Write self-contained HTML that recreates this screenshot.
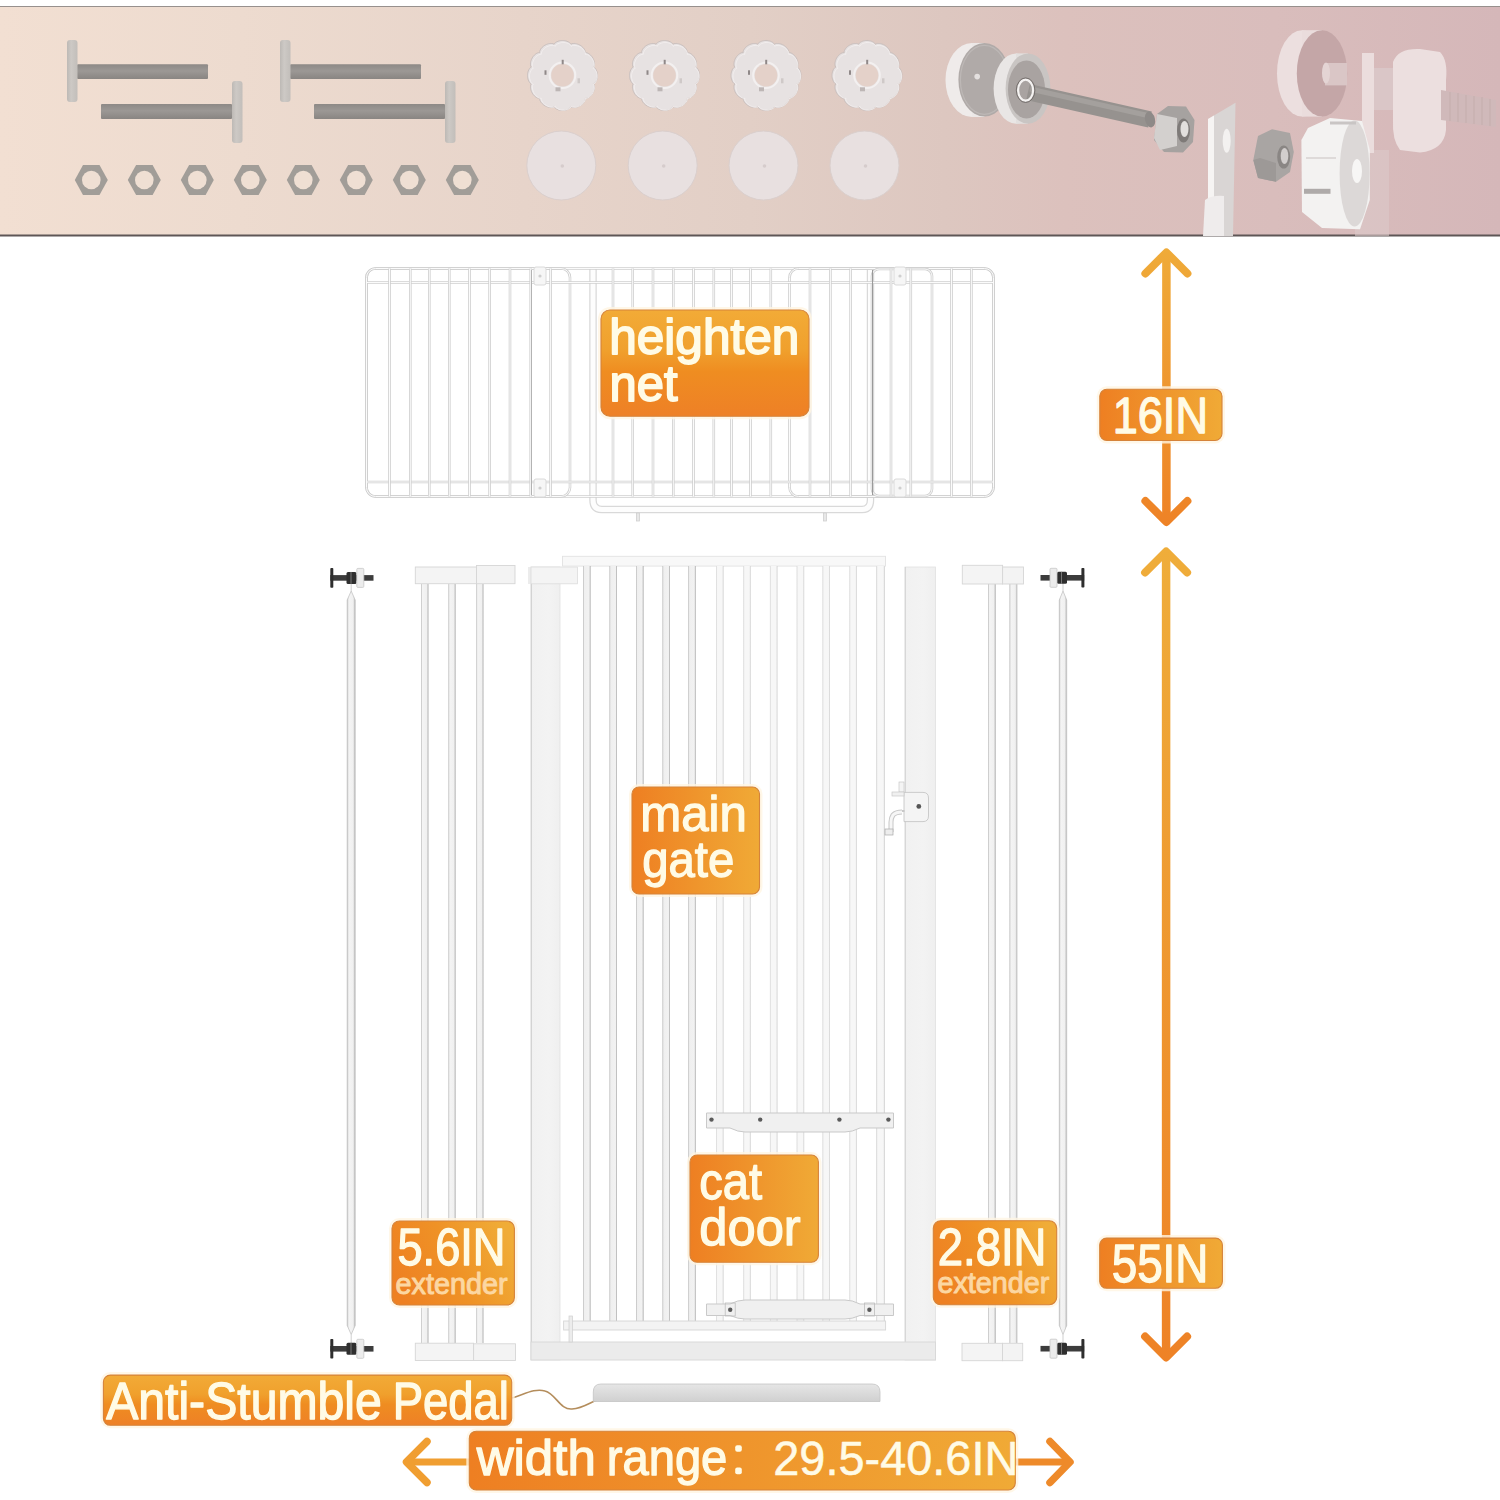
<!DOCTYPE html>
<html><head><meta charset="utf-8">
<style>
html,body{margin:0;padding:0;background:#fff;width:1500px;height:1500px;overflow:hidden}
svg{display:block}
text{font-family:"Liberation Sans",sans-serif}
</style></head>
<body>
<svg width="1500" height="1500" viewBox="0 0 1500 1500">
<defs>
 <linearGradient id="bn" x1="0" y1="0" x2="1" y2="0">
  <stop offset="0" stop-color="#f2dfd2"/>
  <stop offset="0.16" stop-color="#eddbcf"/>
  <stop offset="0.35" stop-color="#e7d4ca"/>
  <stop offset="0.5" stop-color="#e2cfc6"/>
  <stop offset="0.63" stop-color="#ddc7c0"/>
  <stop offset="0.71" stop-color="#dcc1bd"/>
  <stop offset="0.85" stop-color="#d9bdbc"/>
  <stop offset="1" stop-color="#d5b7b9"/>
 </linearGradient>
 <linearGradient id="lblV" x1="0" y1="0" x2="0" y2="1">
  <stop offset="0" stop-color="#f2ab37"/>
  <stop offset="0.38" stop-color="#f0a02d"/>
  <stop offset="0.58" stop-color="#ef8d21"/>
  <stop offset="1" stop-color="#ee8026"/>
 </linearGradient>
 <linearGradient id="lblH" x1="0" y1="0" x2="1" y2="0">
  <stop offset="0" stop-color="#ee7f22"/>
  <stop offset="1" stop-color="#f0aa36"/>
 </linearGradient>
 <linearGradient id="lblD" x1="0" y1="0.65" x2="1" y2="0.35">
  <stop offset="0" stop-color="#ee8022"/>
  <stop offset="0.5" stop-color="#ef9226"/>
  <stop offset="1" stop-color="#f0ac37"/>
 </linearGradient>
 <linearGradient id="arrV1" gradientUnits="userSpaceOnUse" x1="0" y1="248" x2="0" y2="526">
  <stop offset="0" stop-color="#efab39"/>
  <stop offset="1" stop-color="#ee8226"/>
 </linearGradient>
 <linearGradient id="arrV2" gradientUnits="userSpaceOnUse" x1="0" y1="548" x2="0" y2="1361">
  <stop offset="0" stop-color="#efad3a"/>
  <stop offset="1" stop-color="#ee8226"/>
 </linearGradient>
 <linearGradient id="arrH" gradientUnits="userSpaceOnUse" x1="400" y1="0" x2="1075" y2="0">
  <stop offset="0" stop-color="#f09a30"/>
  <stop offset="1" stop-color="#ee8a28"/>
 </linearGradient>
 <linearGradient id="shaft" x1="0" y1="0" x2="0" y2="1">
  <stop offset="0" stop-color="#8d8986"/>
  <stop offset="0.45" stop-color="#9c9895"/>
  <stop offset="1" stop-color="#898582"/>
 </linearGradient>
 <linearGradient id="head" x1="0" y1="0" x2="1" y2="0">
  <stop offset="0" stop-color="#bdb9b5"/>
  <stop offset="0.4" stop-color="#cdc9c5"/>
  <stop offset="1" stop-color="#c2beba"/>
 </linearGradient>
 <linearGradient id="pedal" x1="0" y1="0" x2="0" y2="1">
  <stop offset="0" stop-color="#e6e6e6"/>
  <stop offset="1" stop-color="#d0d0d0"/>
 </linearGradient>
 <linearGradient id="post" x1="0" y1="0" x2="1" y2="0">
  <stop offset="0" stop-color="#f1f1f1"/>
  <stop offset="0.6" stop-color="#f3f3f3"/>
  <stop offset="1" stop-color="#efefef"/>
 </linearGradient>
 <linearGradient id="bar" x1="0" y1="0" x2="1" y2="0">
  <stop offset="0" stop-color="#b9b9b9"/>
  <stop offset="0.18" stop-color="#efefef"/>
  <stop offset="0.8" stop-color="#f2f2f2"/>
  <stop offset="1" stop-color="#a9a9a9"/>
 </linearGradient>
 <linearGradient id="barL" x1="0" y1="0" x2="1" y2="0">
  <stop offset="0" stop-color="#d6d6d6"/>
  <stop offset="0.2" stop-color="#f7f7f7"/>
  <stop offset="0.8" stop-color="#f7f7f7"/>
  <stop offset="1" stop-color="#cfcfcf"/>
 </linearGradient>
 <linearGradient id="rod" x1="0" y1="0" x2="1" y2="0">
  <stop offset="0" stop-color="#bdbdbd"/>
  <stop offset="0.2" stop-color="#f4f4f4"/>
  <stop offset="0.75" stop-color="#f0f0f0"/>
  <stop offset="1" stop-color="#b0b0b0"/>
 </linearGradient>
</defs>

<rect x="0" y="6" width="1500" height="230" fill="url(#bn)"/>
<line x1="0" y1="6.5" x2="1500" y2="6.5" stroke="#97908d" stroke-width="1"/>
<line x1="0" y1="235.5" x2="1500" y2="235.5" stroke="#5e5656" stroke-width="2"/>
<rect x="77" y="64.3" width="131" height="14.7" rx="1" fill="url(#shaft)"/>
<rect x="67" y="40" width="10.5" height="62" rx="3" fill="url(#head)"/>
<rect x="101" y="104" width="131" height="15" rx="1" fill="url(#shaft)"/>
<rect x="232" y="81" width="10.5" height="62" rx="3" fill="url(#head)"/>
<rect x="290" y="64.3" width="131" height="14.7" rx="1" fill="url(#shaft)"/>
<rect x="280" y="40" width="10.5" height="62" rx="3" fill="url(#head)"/>
<rect x="314" y="104" width="131" height="15" rx="1" fill="url(#shaft)"/>
<rect x="445" y="81" width="10.5" height="62" rx="3" fill="url(#head)"/>
<polygon points="74.8,180.0 83.0,165.0 99.5,165.0 107.8,180.0 99.5,195.0 83.0,195.0" fill="#a19d98"/>
<circle cx="91.3" cy="180" r="9.3" fill="#efdfd3"/>
<polygon points="127.8,180.0 136.1,165.0 152.6,165.0 160.8,180.0 152.6,195.0 136.1,195.0" fill="#a19d98"/>
<circle cx="144.3" cy="180" r="9.3" fill="#efdfd3"/>
<polygon points="180.8,180.0 189.1,165.0 205.6,165.0 213.8,180.0 205.6,195.0 189.1,195.0" fill="#a19d98"/>
<circle cx="197.3" cy="180" r="9.3" fill="#efdfd3"/>
<polygon points="233.8,180.0 242.1,165.0 258.6,165.0 266.8,180.0 258.6,195.0 242.1,195.0" fill="#a19d98"/>
<circle cx="250.3" cy="180" r="9.3" fill="#efdfd3"/>
<polygon points="286.8,180.0 295.1,165.0 311.6,165.0 319.8,180.0 311.6,195.0 295.1,195.0" fill="#a19d98"/>
<circle cx="303.3" cy="180" r="9.3" fill="#efdfd3"/>
<polygon points="339.8,180.0 348.1,165.0 364.6,165.0 372.8,180.0 364.6,195.0 348.1,195.0" fill="#a19d98"/>
<circle cx="356.3" cy="180" r="9.3" fill="#efdfd3"/>
<polygon points="392.8,180.0 401.1,165.0 417.6,165.0 425.8,180.0 417.6,195.0 401.1,195.0" fill="#a19d98"/>
<circle cx="409.3" cy="180" r="9.3" fill="#efdfd3"/>
<polygon points="445.8,180.0 454.1,165.0 470.6,165.0 478.8,180.0 470.6,195.0 454.1,195.0" fill="#a19d98"/>
<circle cx="462.3" cy="180" r="9.3" fill="#efdfd3"/>
<path d="M597.5,75.5 L597.5,76.4 L597.4,77.3 L597.2,78.2 L597.0,79.1 L596.7,80.0 L596.3,80.9 L595.9,81.7 L595.4,82.5 L594.8,83.2 L593.7,83.9 L594.3,84.9 L594.5,85.9 L594.5,86.8 L594.5,87.8 L594.4,88.7 L594.2,89.6 L593.9,90.5 L593.6,91.4 L593.2,92.2 L592.8,93.0 L592.3,93.8 L591.8,94.5 L591.2,95.2 L590.6,95.9 L589.9,96.5 L589.1,97.1 L588.3,97.6 L587.5,98.0 L586.6,98.3 L585.3,98.3 L585.3,99.6 L585.0,100.5 L584.6,101.3 L584.1,102.1 L583.5,102.9 L582.9,103.6 L582.2,104.2 L581.5,104.8 L580.8,105.3 L580.0,105.8 L579.2,106.2 L578.4,106.6 L577.5,106.9 L576.6,107.2 L575.7,107.4 L574.8,107.5 L573.8,107.5 L572.9,107.5 L571.9,107.3 L570.9,106.7 L570.2,107.8 L569.5,108.4 L568.7,108.9 L567.9,109.3 L567.0,109.7 L566.1,110.0 L565.2,110.2 L564.3,110.4 L563.4,110.5 L562.5,110.5 L561.6,110.5 L560.7,110.4 L559.8,110.2 L558.9,110.0 L558.0,109.7 L557.1,109.3 L556.3,108.9 L555.5,108.4 L554.8,107.8 L554.1,106.7 L553.1,107.3 L552.1,107.5 L551.2,107.5 L550.2,107.5 L549.3,107.4 L548.4,107.2 L547.5,106.9 L546.6,106.6 L545.8,106.2 L545.0,105.8 L544.2,105.3 L543.5,104.8 L542.8,104.2 L542.1,103.6 L541.5,102.9 L540.9,102.1 L540.4,101.3 L540.0,100.5 L539.7,99.6 L539.7,98.3 L538.4,98.3 L537.5,98.0 L536.7,97.6 L535.9,97.1 L535.1,96.5 L534.4,95.9 L533.8,95.2 L533.2,94.5 L532.7,93.8 L532.2,93.0 L531.8,92.2 L531.4,91.4 L531.1,90.5 L530.8,89.6 L530.6,88.7 L530.5,87.8 L530.5,86.8 L530.5,85.9 L530.7,84.9 L531.3,83.9 L530.2,83.2 L529.6,82.5 L529.1,81.7 L528.7,80.9 L528.3,80.0 L528.0,79.1 L527.8,78.2 L527.6,77.3 L527.5,76.4 L527.5,75.5 L527.5,74.6 L527.6,73.7 L527.8,72.8 L528.0,71.9 L528.3,71.0 L528.7,70.1 L529.1,69.3 L529.6,68.5 L530.2,67.8 L531.3,67.1 L530.7,66.1 L530.5,65.1 L530.5,64.2 L530.5,63.2 L530.6,62.3 L530.8,61.4 L531.1,60.5 L531.4,59.6 L531.8,58.8 L532.2,58.0 L532.7,57.2 L533.2,56.5 L533.8,55.8 L534.4,55.1 L535.1,54.5 L535.9,53.9 L536.7,53.4 L537.5,53.0 L538.4,52.7 L539.7,52.7 L539.7,51.4 L540.0,50.5 L540.4,49.7 L540.9,48.9 L541.5,48.1 L542.1,47.4 L542.8,46.8 L543.5,46.2 L544.2,45.7 L545.0,45.2 L545.8,44.8 L546.6,44.4 L547.5,44.1 L548.4,43.8 L549.3,43.6 L550.2,43.5 L551.2,43.5 L552.1,43.5 L553.1,43.7 L554.1,44.3 L554.8,43.2 L555.5,42.6 L556.3,42.1 L557.1,41.7 L558.0,41.3 L558.9,41.0 L559.8,40.8 L560.7,40.6 L561.6,40.5 L562.5,40.5 L563.4,40.5 L564.3,40.6 L565.2,40.8 L566.1,41.0 L567.0,41.3 L567.9,41.7 L568.7,42.1 L569.5,42.6 L570.2,43.2 L570.9,44.3 L571.9,43.7 L572.9,43.5 L573.8,43.5 L574.8,43.5 L575.7,43.6 L576.6,43.8 L577.5,44.1 L578.4,44.4 L579.2,44.8 L580.0,45.2 L580.8,45.7 L581.5,46.2 L582.2,46.8 L582.9,47.4 L583.5,48.1 L584.1,48.9 L584.6,49.7 L585.0,50.5 L585.3,51.4 L585.3,52.7 L586.6,52.7 L587.5,53.0 L588.3,53.4 L589.1,53.9 L589.9,54.5 L590.6,55.1 L591.2,55.8 L591.8,56.5 L592.3,57.2 L592.8,58.0 L593.2,58.8 L593.6,59.6 L593.9,60.5 L594.2,61.4 L594.4,62.3 L594.5,63.2 L594.5,64.2 L594.5,65.1 L594.3,66.1 L593.7,67.1 L594.8,67.8 L595.4,68.5 L595.9,69.3 L596.3,70.1 L596.7,71.0 L597.0,71.9 L597.2,72.8 L597.4,73.7 L597.5,74.6Z" fill="#e7e2e2" stroke="#c9bfbd" stroke-width="1"/>
<path d="M596.3,75.5 L596.3,76.4 L596.2,77.3 L596.0,78.1 L595.8,79.0 L595.5,79.8 L595.2,80.7 L594.7,81.5 L594.2,82.2 L593.6,83.0 L592.5,83.5 L593.2,84.6 L593.3,85.5 L593.4,86.4 L593.4,87.3 L593.3,88.2 L593.1,89.1 L592.8,90.0 L592.5,90.8 L592.2,91.6 L591.8,92.4 L591.3,93.2 L590.8,93.9 L590.2,94.5 L589.6,95.2 L588.9,95.8 L588.2,96.3 L587.4,96.8 L586.6,97.2 L585.7,97.5 L584.5,97.5 L584.5,98.7 L584.2,99.6 L583.8,100.4 L583.3,101.2 L582.8,101.9 L582.2,102.6 L581.5,103.2 L580.9,103.8 L580.2,104.3 L579.4,104.8 L578.6,105.2 L577.8,105.5 L577.0,105.8 L576.1,106.1 L575.2,106.3 L574.3,106.4 L573.4,106.4 L572.5,106.3 L571.6,106.2 L570.5,105.5 L570.0,106.6 L569.2,107.2 L568.5,107.7 L567.7,108.2 L566.8,108.5 L566.0,108.8 L565.1,109.0 L564.3,109.2 L563.4,109.3 L562.5,109.3 L561.6,109.3 L560.7,109.2 L559.9,109.0 L559.0,108.8 L558.2,108.5 L557.3,108.2 L556.5,107.7 L555.8,107.2 L555.0,106.6 L554.5,105.5 L553.4,106.2 L552.5,106.3 L551.6,106.4 L550.7,106.4 L549.8,106.3 L548.9,106.1 L548.0,105.8 L547.2,105.5 L546.4,105.2 L545.6,104.8 L544.8,104.3 L544.1,103.8 L543.5,103.2 L542.8,102.6 L542.2,101.9 L541.7,101.2 L541.2,100.4 L540.8,99.6 L540.5,98.7 L540.5,97.5 L539.3,97.5 L538.4,97.2 L537.6,96.8 L536.8,96.3 L536.1,95.8 L535.4,95.2 L534.8,94.5 L534.2,93.9 L533.7,93.2 L533.2,92.4 L532.8,91.6 L532.5,90.8 L532.2,90.0 L531.9,89.1 L531.7,88.2 L531.6,87.3 L531.6,86.4 L531.7,85.5 L531.8,84.6 L532.5,83.5 L531.4,83.0 L530.8,82.2 L530.3,81.5 L529.8,80.7 L529.5,79.8 L529.2,79.0 L529.0,78.1 L528.8,77.3 L528.7,76.4 L528.7,75.5 L528.7,74.6 L528.8,73.7 L529.0,72.9 L529.2,72.0 L529.5,71.2 L529.8,70.3 L530.3,69.5 L530.8,68.8 L531.4,68.0 L532.5,67.5 L531.8,66.4 L531.7,65.5 L531.6,64.6 L531.6,63.7 L531.7,62.8 L531.9,61.9 L532.2,61.0 L532.5,60.2 L532.8,59.4 L533.2,58.6 L533.7,57.8 L534.2,57.1 L534.8,56.5 L535.4,55.8 L536.1,55.2 L536.8,54.7 L537.6,54.2 L538.4,53.8 L539.3,53.5 L540.5,53.5 L540.5,52.3 L540.8,51.4 L541.2,50.6 L541.7,49.8 L542.2,49.1 L542.8,48.4 L543.5,47.8 L544.1,47.2 L544.8,46.7 L545.6,46.2 L546.4,45.8 L547.2,45.5 L548.0,45.2 L548.9,44.9 L549.8,44.7 L550.7,44.6 L551.6,44.6 L552.5,44.7 L553.4,44.8 L554.5,45.5 L555.0,44.4 L555.8,43.8 L556.5,43.3 L557.3,42.8 L558.2,42.5 L559.0,42.2 L559.9,42.0 L560.7,41.8 L561.6,41.7 L562.5,41.7 L563.4,41.7 L564.3,41.8 L565.1,42.0 L566.0,42.2 L566.8,42.5 L567.7,42.8 L568.5,43.3 L569.2,43.8 L570.0,44.4 L570.5,45.5 L571.6,44.8 L572.5,44.7 L573.4,44.6 L574.3,44.6 L575.2,44.7 L576.1,44.9 L577.0,45.2 L577.8,45.5 L578.6,45.8 L579.4,46.2 L580.2,46.7 L580.9,47.2 L581.5,47.8 L582.2,48.4 L582.8,49.1 L583.3,49.8 L583.8,50.6 L584.2,51.4 L584.5,52.3 L584.5,53.5 L585.7,53.5 L586.6,53.8 L587.4,54.2 L588.2,54.7 L588.9,55.2 L589.6,55.8 L590.2,56.5 L590.8,57.1 L591.3,57.8 L591.8,58.6 L592.2,59.4 L592.5,60.2 L592.8,61.0 L593.1,61.9 L593.3,62.8 L593.4,63.7 L593.4,64.6 L593.3,65.5 L593.2,66.4 L592.5,67.5 L593.6,68.0 L594.2,68.8 L594.7,69.5 L595.2,70.3 L595.5,71.2 L595.8,72.0 L596.0,72.9 L596.2,73.7 L596.3,74.6Z" fill="none" stroke="#f3efef" stroke-width="1" transform="translate(0.8 0.8)"/>
<circle cx="562.5" cy="75.3" r="12.8" fill="none" stroke="#f3f0f0" stroke-width="2"/>
<circle cx="562.5" cy="75.3" r="11.3" fill="#e4d1c9"/>
<rect x="561.7" y="59.8" width="2" height="4.5" fill="#8f8888"/>
<rect x="544.5" y="70.3" width="2" height="4.5" fill="#8f8888"/>
<rect x="577.5" y="78.3" width="2.5" height="5" fill="#cfc9c8"/>
<rect x="555.5" y="87.3" width="5" height="4" fill="#bdb6b5"/>
<path d="M699.5,75.5 L699.5,76.4 L699.4,77.3 L699.2,78.2 L699.0,79.1 L698.7,80.0 L698.3,80.9 L697.9,81.7 L697.4,82.5 L696.8,83.2 L695.7,83.9 L696.3,84.9 L696.5,85.9 L696.5,86.8 L696.5,87.8 L696.4,88.7 L696.2,89.6 L695.9,90.5 L695.6,91.4 L695.2,92.2 L694.8,93.0 L694.3,93.8 L693.8,94.5 L693.2,95.2 L692.6,95.9 L691.9,96.5 L691.1,97.1 L690.3,97.6 L689.5,98.0 L688.6,98.3 L687.3,98.3 L687.3,99.6 L687.0,100.5 L686.6,101.3 L686.1,102.1 L685.5,102.9 L684.9,103.6 L684.2,104.2 L683.5,104.8 L682.8,105.3 L682.0,105.8 L681.2,106.2 L680.4,106.6 L679.5,106.9 L678.6,107.2 L677.7,107.4 L676.8,107.5 L675.8,107.5 L674.9,107.5 L673.9,107.3 L672.9,106.7 L672.2,107.8 L671.5,108.4 L670.7,108.9 L669.9,109.3 L669.0,109.7 L668.1,110.0 L667.2,110.2 L666.3,110.4 L665.4,110.5 L664.5,110.5 L663.6,110.5 L662.7,110.4 L661.8,110.2 L660.9,110.0 L660.0,109.7 L659.1,109.3 L658.3,108.9 L657.5,108.4 L656.8,107.8 L656.1,106.7 L655.1,107.3 L654.1,107.5 L653.2,107.5 L652.2,107.5 L651.3,107.4 L650.4,107.2 L649.5,106.9 L648.6,106.6 L647.8,106.2 L647.0,105.8 L646.2,105.3 L645.5,104.8 L644.8,104.2 L644.1,103.6 L643.5,102.9 L642.9,102.1 L642.4,101.3 L642.0,100.5 L641.7,99.6 L641.7,98.3 L640.4,98.3 L639.5,98.0 L638.7,97.6 L637.9,97.1 L637.1,96.5 L636.4,95.9 L635.8,95.2 L635.2,94.5 L634.7,93.8 L634.2,93.0 L633.8,92.2 L633.4,91.4 L633.1,90.5 L632.8,89.6 L632.6,88.7 L632.5,87.8 L632.5,86.8 L632.5,85.9 L632.7,84.9 L633.3,83.9 L632.2,83.2 L631.6,82.5 L631.1,81.7 L630.7,80.9 L630.3,80.0 L630.0,79.1 L629.8,78.2 L629.6,77.3 L629.5,76.4 L629.5,75.5 L629.5,74.6 L629.6,73.7 L629.8,72.8 L630.0,71.9 L630.3,71.0 L630.7,70.1 L631.1,69.3 L631.6,68.5 L632.2,67.8 L633.3,67.1 L632.7,66.1 L632.5,65.1 L632.5,64.2 L632.5,63.2 L632.6,62.3 L632.8,61.4 L633.1,60.5 L633.4,59.6 L633.8,58.8 L634.2,58.0 L634.7,57.2 L635.2,56.5 L635.8,55.8 L636.4,55.1 L637.1,54.5 L637.9,53.9 L638.7,53.4 L639.5,53.0 L640.4,52.7 L641.7,52.7 L641.7,51.4 L642.0,50.5 L642.4,49.7 L642.9,48.9 L643.5,48.1 L644.1,47.4 L644.8,46.8 L645.5,46.2 L646.2,45.7 L647.0,45.2 L647.8,44.8 L648.6,44.4 L649.5,44.1 L650.4,43.8 L651.3,43.6 L652.2,43.5 L653.2,43.5 L654.1,43.5 L655.1,43.7 L656.1,44.3 L656.8,43.2 L657.5,42.6 L658.3,42.1 L659.1,41.7 L660.0,41.3 L660.9,41.0 L661.8,40.8 L662.7,40.6 L663.6,40.5 L664.5,40.5 L665.4,40.5 L666.3,40.6 L667.2,40.8 L668.1,41.0 L669.0,41.3 L669.9,41.7 L670.7,42.1 L671.5,42.6 L672.2,43.2 L672.9,44.3 L673.9,43.7 L674.9,43.5 L675.8,43.5 L676.8,43.5 L677.7,43.6 L678.6,43.8 L679.5,44.1 L680.4,44.4 L681.2,44.8 L682.0,45.2 L682.8,45.7 L683.5,46.2 L684.2,46.8 L684.9,47.4 L685.5,48.1 L686.1,48.9 L686.6,49.7 L687.0,50.5 L687.3,51.4 L687.3,52.7 L688.6,52.7 L689.5,53.0 L690.3,53.4 L691.1,53.9 L691.9,54.5 L692.6,55.1 L693.2,55.8 L693.8,56.5 L694.3,57.2 L694.8,58.0 L695.2,58.8 L695.6,59.6 L695.9,60.5 L696.2,61.4 L696.4,62.3 L696.5,63.2 L696.5,64.2 L696.5,65.1 L696.3,66.1 L695.7,67.1 L696.8,67.8 L697.4,68.5 L697.9,69.3 L698.3,70.1 L698.7,71.0 L699.0,71.9 L699.2,72.8 L699.4,73.7 L699.5,74.6Z" fill="#e7e2e2" stroke="#c9bfbd" stroke-width="1"/>
<path d="M698.3,75.5 L698.3,76.4 L698.2,77.3 L698.0,78.1 L697.8,79.0 L697.5,79.8 L697.2,80.7 L696.7,81.5 L696.2,82.2 L695.6,83.0 L694.5,83.5 L695.2,84.6 L695.3,85.5 L695.4,86.4 L695.4,87.3 L695.3,88.2 L695.1,89.1 L694.8,90.0 L694.5,90.8 L694.2,91.6 L693.8,92.4 L693.3,93.2 L692.8,93.9 L692.2,94.5 L691.6,95.2 L690.9,95.8 L690.2,96.3 L689.4,96.8 L688.6,97.2 L687.7,97.5 L686.5,97.5 L686.5,98.7 L686.2,99.6 L685.8,100.4 L685.3,101.2 L684.8,101.9 L684.2,102.6 L683.5,103.2 L682.9,103.8 L682.2,104.3 L681.4,104.8 L680.6,105.2 L679.8,105.5 L679.0,105.8 L678.1,106.1 L677.2,106.3 L676.3,106.4 L675.4,106.4 L674.5,106.3 L673.6,106.2 L672.5,105.5 L672.0,106.6 L671.2,107.2 L670.5,107.7 L669.7,108.2 L668.8,108.5 L668.0,108.8 L667.1,109.0 L666.3,109.2 L665.4,109.3 L664.5,109.3 L663.6,109.3 L662.7,109.2 L661.9,109.0 L661.0,108.8 L660.2,108.5 L659.3,108.2 L658.5,107.7 L657.8,107.2 L657.0,106.6 L656.5,105.5 L655.4,106.2 L654.5,106.3 L653.6,106.4 L652.7,106.4 L651.8,106.3 L650.9,106.1 L650.0,105.8 L649.2,105.5 L648.4,105.2 L647.6,104.8 L646.8,104.3 L646.1,103.8 L645.5,103.2 L644.8,102.6 L644.2,101.9 L643.7,101.2 L643.2,100.4 L642.8,99.6 L642.5,98.7 L642.5,97.5 L641.3,97.5 L640.4,97.2 L639.6,96.8 L638.8,96.3 L638.1,95.8 L637.4,95.2 L636.8,94.5 L636.2,93.9 L635.7,93.2 L635.2,92.4 L634.8,91.6 L634.5,90.8 L634.2,90.0 L633.9,89.1 L633.7,88.2 L633.6,87.3 L633.6,86.4 L633.7,85.5 L633.8,84.6 L634.5,83.5 L633.4,83.0 L632.8,82.2 L632.3,81.5 L631.8,80.7 L631.5,79.8 L631.2,79.0 L631.0,78.1 L630.8,77.3 L630.7,76.4 L630.7,75.5 L630.7,74.6 L630.8,73.7 L631.0,72.9 L631.2,72.0 L631.5,71.2 L631.8,70.3 L632.3,69.5 L632.8,68.8 L633.4,68.0 L634.5,67.5 L633.8,66.4 L633.7,65.5 L633.6,64.6 L633.6,63.7 L633.7,62.8 L633.9,61.9 L634.2,61.0 L634.5,60.2 L634.8,59.4 L635.2,58.6 L635.7,57.8 L636.2,57.1 L636.8,56.5 L637.4,55.8 L638.1,55.2 L638.8,54.7 L639.6,54.2 L640.4,53.8 L641.3,53.5 L642.5,53.5 L642.5,52.3 L642.8,51.4 L643.2,50.6 L643.7,49.8 L644.2,49.1 L644.8,48.4 L645.5,47.8 L646.1,47.2 L646.8,46.7 L647.6,46.2 L648.4,45.8 L649.2,45.5 L650.0,45.2 L650.9,44.9 L651.8,44.7 L652.7,44.6 L653.6,44.6 L654.5,44.7 L655.4,44.8 L656.5,45.5 L657.0,44.4 L657.8,43.8 L658.5,43.3 L659.3,42.8 L660.2,42.5 L661.0,42.2 L661.9,42.0 L662.7,41.8 L663.6,41.7 L664.5,41.7 L665.4,41.7 L666.3,41.8 L667.1,42.0 L668.0,42.2 L668.8,42.5 L669.7,42.8 L670.5,43.3 L671.2,43.8 L672.0,44.4 L672.5,45.5 L673.6,44.8 L674.5,44.7 L675.4,44.6 L676.3,44.6 L677.2,44.7 L678.1,44.9 L679.0,45.2 L679.8,45.5 L680.6,45.8 L681.4,46.2 L682.2,46.7 L682.9,47.2 L683.5,47.8 L684.2,48.4 L684.8,49.1 L685.3,49.8 L685.8,50.6 L686.2,51.4 L686.5,52.3 L686.5,53.5 L687.7,53.5 L688.6,53.8 L689.4,54.2 L690.2,54.7 L690.9,55.2 L691.6,55.8 L692.2,56.5 L692.8,57.1 L693.3,57.8 L693.8,58.6 L694.2,59.4 L694.5,60.2 L694.8,61.0 L695.1,61.9 L695.3,62.8 L695.4,63.7 L695.4,64.6 L695.3,65.5 L695.2,66.4 L694.5,67.5 L695.6,68.0 L696.2,68.8 L696.7,69.5 L697.2,70.3 L697.5,71.2 L697.8,72.0 L698.0,72.9 L698.2,73.7 L698.3,74.6Z" fill="none" stroke="#f3efef" stroke-width="1" transform="translate(0.8 0.8)"/>
<circle cx="664.5" cy="75.3" r="12.8" fill="none" stroke="#f3f0f0" stroke-width="2"/>
<circle cx="664.5" cy="75.3" r="11.3" fill="#e4d1c9"/>
<rect x="663.7" y="59.8" width="2" height="4.5" fill="#8f8888"/>
<rect x="646.5" y="70.3" width="2" height="4.5" fill="#8f8888"/>
<rect x="679.5" y="78.3" width="2.5" height="5" fill="#cfc9c8"/>
<rect x="657.5" y="87.3" width="5" height="4" fill="#bdb6b5"/>
<path d="M801.0,75.5 L801.0,76.4 L800.9,77.3 L800.7,78.2 L800.5,79.1 L800.2,80.0 L799.8,80.9 L799.4,81.7 L798.9,82.5 L798.3,83.2 L797.2,83.9 L797.8,84.9 L798.0,85.9 L798.0,86.8 L798.0,87.8 L797.9,88.7 L797.7,89.6 L797.4,90.5 L797.1,91.4 L796.7,92.2 L796.3,93.0 L795.8,93.8 L795.3,94.5 L794.7,95.2 L794.1,95.9 L793.4,96.5 L792.6,97.1 L791.8,97.6 L791.0,98.0 L790.1,98.3 L788.8,98.3 L788.8,99.6 L788.5,100.5 L788.1,101.3 L787.6,102.1 L787.0,102.9 L786.4,103.6 L785.7,104.2 L785.0,104.8 L784.3,105.3 L783.5,105.8 L782.7,106.2 L781.9,106.6 L781.0,106.9 L780.1,107.2 L779.2,107.4 L778.3,107.5 L777.3,107.5 L776.4,107.5 L775.4,107.3 L774.4,106.7 L773.7,107.8 L773.0,108.4 L772.2,108.9 L771.4,109.3 L770.5,109.7 L769.6,110.0 L768.7,110.2 L767.8,110.4 L766.9,110.5 L766.0,110.5 L765.1,110.5 L764.2,110.4 L763.3,110.2 L762.4,110.0 L761.5,109.7 L760.6,109.3 L759.8,108.9 L759.0,108.4 L758.3,107.8 L757.6,106.7 L756.6,107.3 L755.6,107.5 L754.7,107.5 L753.7,107.5 L752.8,107.4 L751.9,107.2 L751.0,106.9 L750.1,106.6 L749.3,106.2 L748.5,105.8 L747.7,105.3 L747.0,104.8 L746.3,104.2 L745.6,103.6 L745.0,102.9 L744.4,102.1 L743.9,101.3 L743.5,100.5 L743.2,99.6 L743.2,98.3 L741.9,98.3 L741.0,98.0 L740.2,97.6 L739.4,97.1 L738.6,96.5 L737.9,95.9 L737.3,95.2 L736.7,94.5 L736.2,93.8 L735.7,93.0 L735.3,92.2 L734.9,91.4 L734.6,90.5 L734.3,89.6 L734.1,88.7 L734.0,87.8 L734.0,86.8 L734.0,85.9 L734.2,84.9 L734.8,83.9 L733.7,83.2 L733.1,82.5 L732.6,81.7 L732.2,80.9 L731.8,80.0 L731.5,79.1 L731.3,78.2 L731.1,77.3 L731.0,76.4 L731.0,75.5 L731.0,74.6 L731.1,73.7 L731.3,72.8 L731.5,71.9 L731.8,71.0 L732.2,70.1 L732.6,69.3 L733.1,68.5 L733.7,67.8 L734.8,67.1 L734.2,66.1 L734.0,65.1 L734.0,64.2 L734.0,63.2 L734.1,62.3 L734.3,61.4 L734.6,60.5 L734.9,59.6 L735.3,58.8 L735.7,58.0 L736.2,57.2 L736.7,56.5 L737.3,55.8 L737.9,55.1 L738.6,54.5 L739.4,53.9 L740.2,53.4 L741.0,53.0 L741.9,52.7 L743.2,52.7 L743.2,51.4 L743.5,50.5 L743.9,49.7 L744.4,48.9 L745.0,48.1 L745.6,47.4 L746.3,46.8 L747.0,46.2 L747.7,45.7 L748.5,45.2 L749.3,44.8 L750.1,44.4 L751.0,44.1 L751.9,43.8 L752.8,43.6 L753.7,43.5 L754.7,43.5 L755.6,43.5 L756.6,43.7 L757.6,44.3 L758.3,43.2 L759.0,42.6 L759.8,42.1 L760.6,41.7 L761.5,41.3 L762.4,41.0 L763.3,40.8 L764.2,40.6 L765.1,40.5 L766.0,40.5 L766.9,40.5 L767.8,40.6 L768.7,40.8 L769.6,41.0 L770.5,41.3 L771.4,41.7 L772.2,42.1 L773.0,42.6 L773.7,43.2 L774.4,44.3 L775.4,43.7 L776.4,43.5 L777.3,43.5 L778.3,43.5 L779.2,43.6 L780.1,43.8 L781.0,44.1 L781.9,44.4 L782.7,44.8 L783.5,45.2 L784.3,45.7 L785.0,46.2 L785.7,46.8 L786.4,47.4 L787.0,48.1 L787.6,48.9 L788.1,49.7 L788.5,50.5 L788.8,51.4 L788.8,52.7 L790.1,52.7 L791.0,53.0 L791.8,53.4 L792.6,53.9 L793.4,54.5 L794.1,55.1 L794.7,55.8 L795.3,56.5 L795.8,57.2 L796.3,58.0 L796.7,58.8 L797.1,59.6 L797.4,60.5 L797.7,61.4 L797.9,62.3 L798.0,63.2 L798.0,64.2 L798.0,65.1 L797.8,66.1 L797.2,67.1 L798.3,67.8 L798.9,68.5 L799.4,69.3 L799.8,70.1 L800.2,71.0 L800.5,71.9 L800.7,72.8 L800.9,73.7 L801.0,74.6Z" fill="#e7e2e2" stroke="#c9bfbd" stroke-width="1"/>
<path d="M799.8,75.5 L799.8,76.4 L799.7,77.3 L799.5,78.1 L799.3,79.0 L799.0,79.8 L798.7,80.7 L798.2,81.5 L797.7,82.2 L797.1,83.0 L796.0,83.5 L796.7,84.6 L796.8,85.5 L796.9,86.4 L796.9,87.3 L796.8,88.2 L796.6,89.1 L796.3,90.0 L796.0,90.8 L795.7,91.6 L795.3,92.4 L794.8,93.2 L794.3,93.9 L793.7,94.5 L793.1,95.2 L792.4,95.8 L791.7,96.3 L790.9,96.8 L790.1,97.2 L789.2,97.5 L788.0,97.5 L788.0,98.7 L787.7,99.6 L787.3,100.4 L786.8,101.2 L786.3,101.9 L785.7,102.6 L785.0,103.2 L784.4,103.8 L783.7,104.3 L782.9,104.8 L782.1,105.2 L781.3,105.5 L780.5,105.8 L779.6,106.1 L778.7,106.3 L777.8,106.4 L776.9,106.4 L776.0,106.3 L775.1,106.2 L774.0,105.5 L773.5,106.6 L772.7,107.2 L772.0,107.7 L771.2,108.2 L770.3,108.5 L769.5,108.8 L768.6,109.0 L767.8,109.2 L766.9,109.3 L766.0,109.3 L765.1,109.3 L764.2,109.2 L763.4,109.0 L762.5,108.8 L761.7,108.5 L760.8,108.2 L760.0,107.7 L759.3,107.2 L758.5,106.6 L758.0,105.5 L756.9,106.2 L756.0,106.3 L755.1,106.4 L754.2,106.4 L753.3,106.3 L752.4,106.1 L751.5,105.8 L750.7,105.5 L749.9,105.2 L749.1,104.8 L748.3,104.3 L747.6,103.8 L747.0,103.2 L746.3,102.6 L745.7,101.9 L745.2,101.2 L744.7,100.4 L744.3,99.6 L744.0,98.7 L744.0,97.5 L742.8,97.5 L741.9,97.2 L741.1,96.8 L740.3,96.3 L739.6,95.8 L738.9,95.2 L738.3,94.5 L737.7,93.9 L737.2,93.2 L736.7,92.4 L736.3,91.6 L736.0,90.8 L735.7,90.0 L735.4,89.1 L735.2,88.2 L735.1,87.3 L735.1,86.4 L735.2,85.5 L735.3,84.6 L736.0,83.5 L734.9,83.0 L734.3,82.2 L733.8,81.5 L733.3,80.7 L733.0,79.8 L732.7,79.0 L732.5,78.1 L732.3,77.3 L732.2,76.4 L732.2,75.5 L732.2,74.6 L732.3,73.7 L732.5,72.9 L732.7,72.0 L733.0,71.2 L733.3,70.3 L733.8,69.5 L734.3,68.8 L734.9,68.0 L736.0,67.5 L735.3,66.4 L735.2,65.5 L735.1,64.6 L735.1,63.7 L735.2,62.8 L735.4,61.9 L735.7,61.0 L736.0,60.2 L736.3,59.4 L736.7,58.6 L737.2,57.8 L737.7,57.1 L738.3,56.5 L738.9,55.8 L739.6,55.2 L740.3,54.7 L741.1,54.2 L741.9,53.8 L742.8,53.5 L744.0,53.5 L744.0,52.3 L744.3,51.4 L744.7,50.6 L745.2,49.8 L745.7,49.1 L746.3,48.4 L747.0,47.8 L747.6,47.2 L748.3,46.7 L749.1,46.2 L749.9,45.8 L750.7,45.5 L751.5,45.2 L752.4,44.9 L753.3,44.7 L754.2,44.6 L755.1,44.6 L756.0,44.7 L756.9,44.8 L758.0,45.5 L758.5,44.4 L759.3,43.8 L760.0,43.3 L760.8,42.8 L761.7,42.5 L762.5,42.2 L763.4,42.0 L764.2,41.8 L765.1,41.7 L766.0,41.7 L766.9,41.7 L767.8,41.8 L768.6,42.0 L769.5,42.2 L770.3,42.5 L771.2,42.8 L772.0,43.3 L772.7,43.8 L773.5,44.4 L774.0,45.5 L775.1,44.8 L776.0,44.7 L776.9,44.6 L777.8,44.6 L778.7,44.7 L779.6,44.9 L780.5,45.2 L781.3,45.5 L782.1,45.8 L782.9,46.2 L783.7,46.7 L784.4,47.2 L785.0,47.8 L785.7,48.4 L786.3,49.1 L786.8,49.8 L787.3,50.6 L787.7,51.4 L788.0,52.3 L788.0,53.5 L789.2,53.5 L790.1,53.8 L790.9,54.2 L791.7,54.7 L792.4,55.2 L793.1,55.8 L793.7,56.5 L794.3,57.1 L794.8,57.8 L795.3,58.6 L795.7,59.4 L796.0,60.2 L796.3,61.0 L796.6,61.9 L796.8,62.8 L796.9,63.7 L796.9,64.6 L796.8,65.5 L796.7,66.4 L796.0,67.5 L797.1,68.0 L797.7,68.8 L798.2,69.5 L798.7,70.3 L799.0,71.2 L799.3,72.0 L799.5,72.9 L799.7,73.7 L799.8,74.6Z" fill="none" stroke="#f3efef" stroke-width="1" transform="translate(0.8 0.8)"/>
<circle cx="766" cy="75.3" r="12.8" fill="none" stroke="#f3f0f0" stroke-width="2"/>
<circle cx="766" cy="75.3" r="11.3" fill="#e4d1c9"/>
<rect x="765.2" y="59.8" width="2" height="4.5" fill="#8f8888"/>
<rect x="748.0" y="70.3" width="2" height="4.5" fill="#8f8888"/>
<rect x="781.0" y="78.3" width="2.5" height="5" fill="#cfc9c8"/>
<rect x="759.0" y="87.3" width="5" height="4" fill="#bdb6b5"/>
<path d="M902.0,75.5 L902.0,76.4 L901.9,77.3 L901.7,78.2 L901.5,79.1 L901.2,80.0 L900.8,80.9 L900.4,81.7 L899.9,82.5 L899.3,83.2 L898.2,83.9 L898.8,84.9 L899.0,85.9 L899.0,86.8 L899.0,87.8 L898.9,88.7 L898.7,89.6 L898.4,90.5 L898.1,91.4 L897.7,92.2 L897.3,93.0 L896.8,93.8 L896.3,94.5 L895.7,95.2 L895.1,95.9 L894.4,96.5 L893.6,97.1 L892.8,97.6 L892.0,98.0 L891.1,98.3 L889.8,98.3 L889.8,99.6 L889.5,100.5 L889.1,101.3 L888.6,102.1 L888.0,102.9 L887.4,103.6 L886.7,104.2 L886.0,104.8 L885.3,105.3 L884.5,105.8 L883.7,106.2 L882.9,106.6 L882.0,106.9 L881.1,107.2 L880.2,107.4 L879.3,107.5 L878.3,107.5 L877.4,107.5 L876.4,107.3 L875.4,106.7 L874.7,107.8 L874.0,108.4 L873.2,108.9 L872.4,109.3 L871.5,109.7 L870.6,110.0 L869.7,110.2 L868.8,110.4 L867.9,110.5 L867.0,110.5 L866.1,110.5 L865.2,110.4 L864.3,110.2 L863.4,110.0 L862.5,109.7 L861.6,109.3 L860.8,108.9 L860.0,108.4 L859.3,107.8 L858.6,106.7 L857.6,107.3 L856.6,107.5 L855.7,107.5 L854.7,107.5 L853.8,107.4 L852.9,107.2 L852.0,106.9 L851.1,106.6 L850.3,106.2 L849.5,105.8 L848.7,105.3 L848.0,104.8 L847.3,104.2 L846.6,103.6 L846.0,102.9 L845.4,102.1 L844.9,101.3 L844.5,100.5 L844.2,99.6 L844.2,98.3 L842.9,98.3 L842.0,98.0 L841.2,97.6 L840.4,97.1 L839.6,96.5 L838.9,95.9 L838.3,95.2 L837.7,94.5 L837.2,93.8 L836.7,93.0 L836.3,92.2 L835.9,91.4 L835.6,90.5 L835.3,89.6 L835.1,88.7 L835.0,87.8 L835.0,86.8 L835.0,85.9 L835.2,84.9 L835.8,83.9 L834.7,83.2 L834.1,82.5 L833.6,81.7 L833.2,80.9 L832.8,80.0 L832.5,79.1 L832.3,78.2 L832.1,77.3 L832.0,76.4 L832.0,75.5 L832.0,74.6 L832.1,73.7 L832.3,72.8 L832.5,71.9 L832.8,71.0 L833.2,70.1 L833.6,69.3 L834.1,68.5 L834.7,67.8 L835.8,67.1 L835.2,66.1 L835.0,65.1 L835.0,64.2 L835.0,63.2 L835.1,62.3 L835.3,61.4 L835.6,60.5 L835.9,59.6 L836.3,58.8 L836.7,58.0 L837.2,57.2 L837.7,56.5 L838.3,55.8 L838.9,55.1 L839.6,54.5 L840.4,53.9 L841.2,53.4 L842.0,53.0 L842.9,52.7 L844.2,52.7 L844.2,51.4 L844.5,50.5 L844.9,49.7 L845.4,48.9 L846.0,48.1 L846.6,47.4 L847.3,46.8 L848.0,46.2 L848.7,45.7 L849.5,45.2 L850.3,44.8 L851.1,44.4 L852.0,44.1 L852.9,43.8 L853.8,43.6 L854.7,43.5 L855.7,43.5 L856.6,43.5 L857.6,43.7 L858.6,44.3 L859.3,43.2 L860.0,42.6 L860.8,42.1 L861.6,41.7 L862.5,41.3 L863.4,41.0 L864.3,40.8 L865.2,40.6 L866.1,40.5 L867.0,40.5 L867.9,40.5 L868.8,40.6 L869.7,40.8 L870.6,41.0 L871.5,41.3 L872.4,41.7 L873.2,42.1 L874.0,42.6 L874.7,43.2 L875.4,44.3 L876.4,43.7 L877.4,43.5 L878.3,43.5 L879.3,43.5 L880.2,43.6 L881.1,43.8 L882.0,44.1 L882.9,44.4 L883.7,44.8 L884.5,45.2 L885.3,45.7 L886.0,46.2 L886.7,46.8 L887.4,47.4 L888.0,48.1 L888.6,48.9 L889.1,49.7 L889.5,50.5 L889.8,51.4 L889.8,52.7 L891.1,52.7 L892.0,53.0 L892.8,53.4 L893.6,53.9 L894.4,54.5 L895.1,55.1 L895.7,55.8 L896.3,56.5 L896.8,57.2 L897.3,58.0 L897.7,58.8 L898.1,59.6 L898.4,60.5 L898.7,61.4 L898.9,62.3 L899.0,63.2 L899.0,64.2 L899.0,65.1 L898.8,66.1 L898.2,67.1 L899.3,67.8 L899.9,68.5 L900.4,69.3 L900.8,70.1 L901.2,71.0 L901.5,71.9 L901.7,72.8 L901.9,73.7 L902.0,74.6Z" fill="#e7e2e2" stroke="#c9bfbd" stroke-width="1"/>
<path d="M900.8,75.5 L900.8,76.4 L900.7,77.3 L900.5,78.1 L900.3,79.0 L900.0,79.8 L899.7,80.7 L899.2,81.5 L898.7,82.2 L898.1,83.0 L897.0,83.5 L897.7,84.6 L897.8,85.5 L897.9,86.4 L897.9,87.3 L897.8,88.2 L897.6,89.1 L897.3,90.0 L897.0,90.8 L896.7,91.6 L896.3,92.4 L895.8,93.2 L895.3,93.9 L894.7,94.5 L894.1,95.2 L893.4,95.8 L892.7,96.3 L891.9,96.8 L891.1,97.2 L890.2,97.5 L889.0,97.5 L889.0,98.7 L888.7,99.6 L888.3,100.4 L887.8,101.2 L887.3,101.9 L886.7,102.6 L886.0,103.2 L885.4,103.8 L884.7,104.3 L883.9,104.8 L883.1,105.2 L882.3,105.5 L881.5,105.8 L880.6,106.1 L879.7,106.3 L878.8,106.4 L877.9,106.4 L877.0,106.3 L876.1,106.2 L875.0,105.5 L874.5,106.6 L873.7,107.2 L873.0,107.7 L872.2,108.2 L871.3,108.5 L870.5,108.8 L869.6,109.0 L868.8,109.2 L867.9,109.3 L867.0,109.3 L866.1,109.3 L865.2,109.2 L864.4,109.0 L863.5,108.8 L862.7,108.5 L861.8,108.2 L861.0,107.7 L860.3,107.2 L859.5,106.6 L859.0,105.5 L857.9,106.2 L857.0,106.3 L856.1,106.4 L855.2,106.4 L854.3,106.3 L853.4,106.1 L852.5,105.8 L851.7,105.5 L850.9,105.2 L850.1,104.8 L849.3,104.3 L848.6,103.8 L848.0,103.2 L847.3,102.6 L846.7,101.9 L846.2,101.2 L845.7,100.4 L845.3,99.6 L845.0,98.7 L845.0,97.5 L843.8,97.5 L842.9,97.2 L842.1,96.8 L841.3,96.3 L840.6,95.8 L839.9,95.2 L839.3,94.5 L838.7,93.9 L838.2,93.2 L837.7,92.4 L837.3,91.6 L837.0,90.8 L836.7,90.0 L836.4,89.1 L836.2,88.2 L836.1,87.3 L836.1,86.4 L836.2,85.5 L836.3,84.6 L837.0,83.5 L835.9,83.0 L835.3,82.2 L834.8,81.5 L834.3,80.7 L834.0,79.8 L833.7,79.0 L833.5,78.1 L833.3,77.3 L833.2,76.4 L833.2,75.5 L833.2,74.6 L833.3,73.7 L833.5,72.9 L833.7,72.0 L834.0,71.2 L834.3,70.3 L834.8,69.5 L835.3,68.8 L835.9,68.0 L837.0,67.5 L836.3,66.4 L836.2,65.5 L836.1,64.6 L836.1,63.7 L836.2,62.8 L836.4,61.9 L836.7,61.0 L837.0,60.2 L837.3,59.4 L837.7,58.6 L838.2,57.8 L838.7,57.1 L839.3,56.5 L839.9,55.8 L840.6,55.2 L841.3,54.7 L842.1,54.2 L842.9,53.8 L843.8,53.5 L845.0,53.5 L845.0,52.3 L845.3,51.4 L845.7,50.6 L846.2,49.8 L846.7,49.1 L847.3,48.4 L848.0,47.8 L848.6,47.2 L849.3,46.7 L850.1,46.2 L850.9,45.8 L851.7,45.5 L852.5,45.2 L853.4,44.9 L854.3,44.7 L855.2,44.6 L856.1,44.6 L857.0,44.7 L857.9,44.8 L859.0,45.5 L859.5,44.4 L860.3,43.8 L861.0,43.3 L861.8,42.8 L862.7,42.5 L863.5,42.2 L864.4,42.0 L865.2,41.8 L866.1,41.7 L867.0,41.7 L867.9,41.7 L868.8,41.8 L869.6,42.0 L870.5,42.2 L871.3,42.5 L872.2,42.8 L873.0,43.3 L873.7,43.8 L874.5,44.4 L875.0,45.5 L876.1,44.8 L877.0,44.7 L877.9,44.6 L878.8,44.6 L879.7,44.7 L880.6,44.9 L881.5,45.2 L882.3,45.5 L883.1,45.8 L883.9,46.2 L884.7,46.7 L885.4,47.2 L886.0,47.8 L886.7,48.4 L887.3,49.1 L887.8,49.8 L888.3,50.6 L888.7,51.4 L889.0,52.3 L889.0,53.5 L890.2,53.5 L891.1,53.8 L891.9,54.2 L892.7,54.7 L893.4,55.2 L894.1,55.8 L894.7,56.5 L895.3,57.1 L895.8,57.8 L896.3,58.6 L896.7,59.4 L897.0,60.2 L897.3,61.0 L897.6,61.9 L897.8,62.8 L897.9,63.7 L897.9,64.6 L897.8,65.5 L897.7,66.4 L897.0,67.5 L898.1,68.0 L898.7,68.8 L899.2,69.5 L899.7,70.3 L900.0,71.2 L900.3,72.0 L900.5,72.9 L900.7,73.7 L900.8,74.6Z" fill="none" stroke="#f3efef" stroke-width="1" transform="translate(0.8 0.8)"/>
<circle cx="867" cy="75.3" r="12.8" fill="none" stroke="#f3f0f0" stroke-width="2"/>
<circle cx="867" cy="75.3" r="11.3" fill="#e4d1c9"/>
<rect x="866.2" y="59.8" width="2" height="4.5" fill="#8f8888"/>
<rect x="849.0" y="70.3" width="2" height="4.5" fill="#8f8888"/>
<rect x="882.0" y="78.3" width="2.5" height="5" fill="#cfc9c8"/>
<rect x="860.0" y="87.3" width="5" height="4" fill="#bdb6b5"/>
<circle cx="561.3" cy="165.5" r="34.5" fill="#e8e0e0" stroke="#dacfcd" stroke-width="1"/>
<circle cx="562.3" cy="166" r="1.8" fill="#d6cccc"/>
<circle cx="662.7" cy="165.5" r="34.5" fill="#e8e0e0" stroke="#dacfcd" stroke-width="1"/>
<circle cx="663.7" cy="166" r="1.8" fill="#d6cccc"/>
<circle cx="763.5" cy="165.5" r="34.5" fill="#e8e0e0" stroke="#dacfcd" stroke-width="1"/>
<circle cx="764.5" cy="166" r="1.8" fill="#d6cccc"/>
<circle cx="864.5" cy="165.5" r="34.5" fill="#e8e0e0" stroke="#dacfcd" stroke-width="1"/>
<circle cx="865.5" cy="166" r="1.8" fill="#d6cccc"/>
<g id="expl">
 <!-- disc 1 -->
 <ellipse cx="972" cy="80" rx="26.5" ry="37" fill="#efebea"/>
 <rect x="972" y="43" width="12.5" height="74" fill="#ece8e7"/>
 <ellipse cx="984.4" cy="79.8" rx="26" ry="36.8" fill="#b0aaa8"/>
 <ellipse cx="984.4" cy="79.8" rx="24" ry="34.5" fill="none" stroke="#bdb8b6" stroke-width="1.2"/>
 <circle cx="977.2" cy="76.6" r="2.8" fill="#e4e0df"/>
 <!-- disc 2 -->
 <ellipse cx="1016" cy="88.6" rx="22.4" ry="35.2" fill="#e9e6e5"/>
 <rect x="1016" y="53.4" width="12" height="70.4" fill="#e2dfde"/>
 <ellipse cx="1028" cy="88.6" rx="22.4" ry="35.2" fill="#c9c5c3"/>
 <ellipse cx="1026.5" cy="89.4" rx="18.5" ry="29" fill="#a9a3a1"/>
 <!-- shaft -->
 <line x1="1028" y1="92" x2="1150" y2="119.5" stroke="#96928f" stroke-width="16.5"/>
 <line x1="1030" y1="89" x2="1150" y2="116" stroke="#a4a09d" stroke-width="5"/>
 <ellipse cx="1150" cy="119.5" rx="5" ry="8" transform="rotate(-13 1150 119.5)" fill="#8e8a88"/>
 <ellipse cx="1025.6" cy="90.2" rx="7.5" ry="10.5" fill="none" stroke="#f4f2f1" stroke-width="2.2"/>
 <ellipse cx="1025.6" cy="90.2" rx="9.3" ry="12.3" fill="none" stroke="#6f6a68" stroke-width="0.9"/>
 <!-- nut 1 -->
 <polygon points="1157,114 1168,106 1186,106.5 1194.5,120 1193,142 1183,152.5 1164,152 1154,140" fill="#a6a2a0"/>
 <polygon points="1157,114 1177,118 1177,146 1160,150 1154,138" fill="#d3d0ce"/>
 <ellipse cx="1183.5" cy="130.5" rx="6.5" ry="12" fill="#7e7a78"/>
 <ellipse cx="1184.5" cy="129" rx="4" ry="8" fill="#e2dfdd"/>
 <!-- faded background parts -->
 <rect x="1355" y="150" width="34" height="86" fill="#dcc9ca" opacity="0.6"/>
 <ellipse cx="1302" cy="73.4" rx="25" ry="43.2" fill="#ecdfdf"/>
 <rect x="1302" y="30.2" width="20" height="86.4" fill="#eadcdc"/>
 <ellipse cx="1322" cy="73.4" rx="25.2" ry="43.2" fill="#c4a6a7"/>
 <rect x="1325" y="63" width="22" height="22.4" fill="#dac6c6"/>
 <ellipse cx="1326" cy="73" rx="4" ry="10.5" fill="#e4d4d4"/>
 <rect x="1362" y="53" width="12" height="100" fill="#ebdddd"/>
 <rect x="1374" y="68" width="22" height="42" fill="#dac6c7"/>
 <path d="M1393 62 Q1398 48 1420 49 L1440 52 Q1448 60 1446 80 L1446 130 Q1444 150 1420 152.6 L1400 150 Q1392 140 1393 120 Z" fill="#ecdfdf"/>
 <polygon points="1441,90 1496,100 1496,127 1441,120" fill="#d0b9ba"/>
 <g stroke="#c2a9aa" stroke-width="0.8">
  <line x1="1450" y1="92" x2="1450" y2="121"/><line x1="1458" y1="93" x2="1458" y2="122"/>
  <line x1="1466" y1="95" x2="1466" y2="123"/><line x1="1474" y1="96" x2="1474" y2="124"/>
  <line x1="1482" y1="97" x2="1482" y2="125"/><line x1="1490" y1="99" x2="1490" y2="126"/>
 </g>
 <!-- bracket -->
 <path d="M1208 236 L1208 119 L1235.5 102.7 L1233 236 Z" fill="#d9d5d4"/>
 <path d="M1208 236 L1208 119 L1214 115.5 L1214 236 Z" fill="#f6f4f3"/>
 <path d="M1203 236 L1205 200 Q1212 195 1224 196 L1224 236 Z" fill="#efecec"/>
 <ellipse cx="1226.7" cy="140.7" rx="4" ry="12" fill="#f3f1f0"/>
 <!-- nut 2 -->
 <polygon points="1258,136 1272,129.3 1290,133 1293.8,152 1290,172 1276,181.8 1258,178 1253.3,160" fill="#a9a5a3"/>
 <polygon points="1253.3,160 1258,178 1276,181.8 1276,163 1260,158" fill="#9d9997"/>
 <ellipse cx="1283.7" cy="157.1" rx="6.5" ry="11.5" fill="#8a8684"/>
 <ellipse cx="1284.5" cy="156" rx="3.8" ry="8" fill="#d2cecd"/>
 <!-- knob -->
 <path d="M1308 128 L1330 118 L1362 121 L1369.8 150 L1369.8 200 L1360 229.3 L1322 228 L1302 212 L1301.4 140 Z" fill="#f3f2f1"/>
 <ellipse cx="1354.6" cy="173.6" rx="15" ry="53" fill="#dcd8d7"/>
 <ellipse cx="1357" cy="171" rx="5" ry="12" fill="#f7f6f5"/>
 <line x1="1306" y1="158" x2="1336" y2="158" stroke="#dedad9" stroke-width="2"/>
 <line x1="1304" y1="191.3" x2="1330.5" y2="191.3" stroke="#aeaaa9" stroke-width="5"/>
 <line x1="1330" y1="123" x2="1356" y2="123" stroke="#c9c5c4" stroke-width="3"/>
</g>
<path d="M593 268 L593 500 Q593 509.5 602 509.5 L862 509.5 Q870.5 509.5 870.5 500 L870.5 268" fill="none" stroke="#d9d9d9" stroke-width="7.5"/>
<path d="M593 268 L593 500 Q593 509.5 602 509.5 L862 509.5 Q870.5 509.5 870.5 500 L870.5 268" fill="none" stroke="#fdfdfd" stroke-width="5"/>
<rect x="636.5" y="513" width="3" height="8" fill="#e8e8e8" stroke="#cfcfcf" stroke-width="0.8"/>
<rect x="823.5" y="513" width="3" height="8" fill="#e8e8e8" stroke="#cfcfcf" stroke-width="0.8"/>
<rect x="366.5" y="268.5" width="627.0" height="228.0" rx="9" fill="none" stroke="#cfcfcf" stroke-width="2.6"/>
<rect x="366.5" y="268.5" width="627.0" height="228.0" rx="9" fill="none" stroke="#fbfbfb" stroke-width="1.0"/>
<rect x="366.5" y="268.5" width="203.5" height="228.0" rx="9" fill="none" stroke="#cfcfcf" stroke-width="2.6"/>
<rect x="366.5" y="268.5" width="203.5" height="228.0" rx="9" fill="none" stroke="#fbfbfb" stroke-width="1.0"/>
<rect x="789.5" y="268.5" width="204.0" height="228.0" rx="9" fill="none" stroke="#cfcfcf" stroke-width="2.6"/>
<rect x="789.5" y="268.5" width="204.0" height="228.0" rx="9" fill="none" stroke="#fbfbfb" stroke-width="1.0"/>
<rect x="872" y="269.0" width="60" height="227.0" rx="7" fill="none" stroke="#cfcfcf" stroke-width="2.6"/>
<rect x="872" y="269.0" width="60" height="227.0" rx="7" fill="none" stroke="#fbfbfb" stroke-width="1.0"/>
<line x1="367" y1="282.5" x2="993" y2="282.5" stroke="#cfcfcf" stroke-width="2.6"/>
<line x1="367" y1="282.5" x2="993" y2="282.5" stroke="#fbfbfb" stroke-width="1.0"/>
<line x1="367" y1="482" x2="993" y2="482" stroke="#cfcfcf" stroke-width="2.6"/>
<line x1="367" y1="482" x2="993" y2="482" stroke="#fbfbfb" stroke-width="1.0"/>
<line x1="389.5" y1="268.5" x2="389.5" y2="496.5" stroke="#cfcfcf" stroke-width="2.6"/>
<line x1="389.5" y1="268.5" x2="389.5" y2="496.5" stroke="#fbfbfb" stroke-width="1.0"/>
<line x1="410.3" y1="268.5" x2="410.3" y2="496.5" stroke="#cfcfcf" stroke-width="2.6"/>
<line x1="410.3" y1="268.5" x2="410.3" y2="496.5" stroke="#fbfbfb" stroke-width="1.0"/>
<line x1="429.3" y1="268.5" x2="429.3" y2="496.5" stroke="#cfcfcf" stroke-width="2.6"/>
<line x1="429.3" y1="268.5" x2="429.3" y2="496.5" stroke="#fbfbfb" stroke-width="1.0"/>
<line x1="449.3" y1="268.5" x2="449.3" y2="496.5" stroke="#cfcfcf" stroke-width="2.6"/>
<line x1="449.3" y1="268.5" x2="449.3" y2="496.5" stroke="#fbfbfb" stroke-width="1.0"/>
<line x1="469.5" y1="268.5" x2="469.5" y2="496.5" stroke="#cfcfcf" stroke-width="2.6"/>
<line x1="469.5" y1="268.5" x2="469.5" y2="496.5" stroke="#fbfbfb" stroke-width="1.0"/>
<line x1="489.6" y1="268.5" x2="489.6" y2="496.5" stroke="#cfcfcf" stroke-width="2.6"/>
<line x1="489.6" y1="268.5" x2="489.6" y2="496.5" stroke="#fbfbfb" stroke-width="1.0"/>
<line x1="510" y1="268.5" x2="510" y2="496.5" stroke="#cfcfcf" stroke-width="2.6"/>
<line x1="510" y1="268.5" x2="510" y2="496.5" stroke="#fbfbfb" stroke-width="1.0"/>
<line x1="530.7" y1="268.5" x2="530.7" y2="496.5" stroke="#cfcfcf" stroke-width="2.6"/>
<line x1="530.7" y1="268.5" x2="530.7" y2="496.5" stroke="#fbfbfb" stroke-width="1.0"/>
<line x1="550.6" y1="268.5" x2="550.6" y2="496.5" stroke="#cfcfcf" stroke-width="2.6"/>
<line x1="550.6" y1="268.5" x2="550.6" y2="496.5" stroke="#fbfbfb" stroke-width="1.0"/>
<line x1="613" y1="268.5" x2="613" y2="496.5" stroke="#cfcfcf" stroke-width="2.6"/>
<line x1="613" y1="268.5" x2="613" y2="496.5" stroke="#fbfbfb" stroke-width="1.0"/>
<line x1="632.7" y1="268.5" x2="632.7" y2="496.5" stroke="#cfcfcf" stroke-width="2.6"/>
<line x1="632.7" y1="268.5" x2="632.7" y2="496.5" stroke="#fbfbfb" stroke-width="1.0"/>
<line x1="653" y1="268.5" x2="653" y2="496.5" stroke="#cfcfcf" stroke-width="2.6"/>
<line x1="653" y1="268.5" x2="653" y2="496.5" stroke="#fbfbfb" stroke-width="1.0"/>
<line x1="673.3" y1="268.5" x2="673.3" y2="496.5" stroke="#cfcfcf" stroke-width="2.6"/>
<line x1="673.3" y1="268.5" x2="673.3" y2="496.5" stroke="#fbfbfb" stroke-width="1.0"/>
<line x1="693.5" y1="268.5" x2="693.5" y2="496.5" stroke="#cfcfcf" stroke-width="2.6"/>
<line x1="693.5" y1="268.5" x2="693.5" y2="496.5" stroke="#fbfbfb" stroke-width="1.0"/>
<line x1="713.8" y1="268.5" x2="713.8" y2="496.5" stroke="#cfcfcf" stroke-width="2.6"/>
<line x1="713.8" y1="268.5" x2="713.8" y2="496.5" stroke="#fbfbfb" stroke-width="1.0"/>
<line x1="731.5" y1="268.5" x2="731.5" y2="496.5" stroke="#cfcfcf" stroke-width="2.6"/>
<line x1="731.5" y1="268.5" x2="731.5" y2="496.5" stroke="#fbfbfb" stroke-width="1.0"/>
<line x1="750.5" y1="268.5" x2="750.5" y2="496.5" stroke="#cfcfcf" stroke-width="2.6"/>
<line x1="750.5" y1="268.5" x2="750.5" y2="496.5" stroke="#fbfbfb" stroke-width="1.0"/>
<line x1="770.8" y1="268.5" x2="770.8" y2="496.5" stroke="#cfcfcf" stroke-width="2.6"/>
<line x1="770.8" y1="268.5" x2="770.8" y2="496.5" stroke="#fbfbfb" stroke-width="1.0"/>
<line x1="810" y1="268.5" x2="810" y2="496.5" stroke="#cfcfcf" stroke-width="2.6"/>
<line x1="810" y1="268.5" x2="810" y2="496.5" stroke="#fbfbfb" stroke-width="1.0"/>
<line x1="830.4" y1="268.5" x2="830.4" y2="496.5" stroke="#cfcfcf" stroke-width="2.6"/>
<line x1="830.4" y1="268.5" x2="830.4" y2="496.5" stroke="#fbfbfb" stroke-width="1.0"/>
<line x1="850.6" y1="268.5" x2="850.6" y2="496.5" stroke="#cfcfcf" stroke-width="2.6"/>
<line x1="850.6" y1="268.5" x2="850.6" y2="496.5" stroke="#fbfbfb" stroke-width="1.0"/>
<line x1="891" y1="268.5" x2="891" y2="496.5" stroke="#cfcfcf" stroke-width="2.6"/>
<line x1="891" y1="268.5" x2="891" y2="496.5" stroke="#fbfbfb" stroke-width="1.0"/>
<line x1="910.8" y1="268.5" x2="910.8" y2="496.5" stroke="#cfcfcf" stroke-width="2.6"/>
<line x1="910.8" y1="268.5" x2="910.8" y2="496.5" stroke="#fbfbfb" stroke-width="1.0"/>
<line x1="951.5" y1="268.5" x2="951.5" y2="496.5" stroke="#cfcfcf" stroke-width="2.6"/>
<line x1="951.5" y1="268.5" x2="951.5" y2="496.5" stroke="#fbfbfb" stroke-width="1.0"/>
<line x1="971.4" y1="268.5" x2="971.4" y2="496.5" stroke="#cfcfcf" stroke-width="2.6"/>
<line x1="971.4" y1="268.5" x2="971.4" y2="496.5" stroke="#fbfbfb" stroke-width="1.0"/>
<line x1="531.5" y1="270" x2="531.5" y2="495" stroke="#aaaaaa" stroke-width="0.8"/>
<line x1="872.5" y1="270" x2="872.5" y2="495" stroke="#9a9a9a" stroke-width="1"/>
<rect x="534" y="267" width="12" height="18" rx="2" fill="#f6f6f6" stroke="#dadada" stroke-width="1"/>
<circle cx="540" cy="276" r="1.6" fill="#cfcfcf"/>
<rect x="534" y="479" width="12" height="18" rx="2" fill="#f6f6f6" stroke="#dadada" stroke-width="1"/>
<circle cx="540" cy="488" r="1.6" fill="#cfcfcf"/>
<rect x="894" y="267" width="12" height="18" rx="2" fill="#f6f6f6" stroke="#dadada" stroke-width="1"/>
<circle cx="900" cy="276" r="1.6" fill="#cfcfcf"/>
<rect x="894" y="479" width="12" height="18" rx="2" fill="#f6f6f6" stroke="#dadada" stroke-width="1"/>
<circle cx="900" cy="488" r="1.6" fill="#cfcfcf"/>
<path d="M347.2 600 L351.2 591 L355.2 600 L355.2 1325.5 L351.2 1334.5 L347.2 1325.5 Z" fill="url(#rod)" stroke="#c4c4c4" stroke-width="0.8"/>
<line x1="351.2" y1="577" x2="351.2" y2="591" stroke="#b0b0b0" stroke-width="0.6"/>
<line x1="351.2" y1="1334.5" x2="351.2" y2="1348.5" stroke="#b0b0b0" stroke-width="0.6"/>
<path d="M1059.3 600 L1063.0 591 L1066.7 600 L1066.7 1325.5 L1063.0 1334.5 L1059.3 1325.5 Z" fill="url(#rod)" stroke="#c4c4c4" stroke-width="0.8"/>
<line x1="1063.0" y1="577" x2="1063.0" y2="591" stroke="#b0b0b0" stroke-width="0.6"/>
<line x1="1063.0" y1="1334.5" x2="1063.0" y2="1348.5" stroke="#b0b0b0" stroke-width="0.6"/>
<rect x="330.3" y="575.1" width="43.19999999999999" height="5.6" fill="#3c3c3c"/>
<rect x="330.3" y="568.1" width="3" height="19.6" rx="0.8" fill="#2e2e2e"/>
<rect x="346.5" y="571.9" width="10" height="12" rx="1.5" fill="#2f2f2f"/>
<line x1="351.0" y1="571.9" x2="351.0" y2="583.9" stroke="#8a8a8a" stroke-width="0.8"/>
<rect x="356.8" y="568.4" width="7" height="19" rx="1" fill="#ececec" stroke="#c8c8c8" stroke-width="0.8"/>
<rect x="330.3" y="1346.0" width="43.19999999999999" height="5.6" fill="#3c3c3c"/>
<rect x="330.3" y="1339.0" width="3" height="19.6" rx="0.8" fill="#2e2e2e"/>
<rect x="346.5" y="1342.8" width="10" height="12" rx="1.5" fill="#2f2f2f"/>
<line x1="351.0" y1="1342.8" x2="351.0" y2="1354.8" stroke="#8a8a8a" stroke-width="0.8"/>
<rect x="356.8" y="1339.3" width="7" height="19" rx="1" fill="#ececec" stroke="#c8c8c8" stroke-width="0.8"/>
<rect x="1040.5" y="575.0" width="43.700000000000045" height="5.6" fill="#3c3c3c"/>
<rect x="1081.4" y="568.0" width="3" height="19.6" rx="0.8" fill="#2e2e2e"/>
<rect x="1057" y="571.8" width="10" height="12" rx="1.5" fill="#2f2f2f"/>
<line x1="1061.5" y1="571.8" x2="1061.5" y2="583.8" stroke="#8a8a8a" stroke-width="0.8"/>
<rect x="1050.0" y="568.3" width="7" height="19" rx="1" fill="#ececec" stroke="#c8c8c8" stroke-width="0.8"/>
<rect x="1040.5" y="1345.9" width="43.700000000000045" height="5.6" fill="#3c3c3c"/>
<rect x="1081.4" y="1338.9" width="3" height="19.6" rx="0.8" fill="#2e2e2e"/>
<rect x="1057" y="1342.7" width="10" height="12" rx="1.5" fill="#2f2f2f"/>
<line x1="1061.5" y1="1342.7" x2="1061.5" y2="1354.7" stroke="#8a8a8a" stroke-width="0.8"/>
<rect x="1050.0" y="1339.2" width="7" height="19" rx="1" fill="#ececec" stroke="#c8c8c8" stroke-width="0.8"/>
<rect x="421" y="584" width="7.5" height="759" fill="url(#rod)"/>
<rect x="448.3" y="584" width="7.399999999999977" height="759" fill="url(#rod)"/>
<rect x="476.2" y="584" width="7.300000000000011" height="759" fill="url(#rod)"/>
<rect x="415.3" y="567" width="61.19999999999999" height="16.700000000000045" fill="#f4f4f4" stroke="#d6d6d6" stroke-width="0.9"/>
<rect x="476.5" y="565.5" width="38.5" height="18.200000000000045" fill="#f3f3f3" stroke="#d6d6d6" stroke-width="0.9"/>
<rect x="415.3" y="1343.2" width="58.30000000000001" height="17.299999999999955" fill="#f4f4f4" stroke="#d6d6d6" stroke-width="0.9"/>
<rect x="473.6" y="1343.8" width="41.89999999999998" height="16.700000000000045" fill="#f3f3f3" stroke="#d6d6d6" stroke-width="0.9"/>
<rect x="988" y="584" width="7.7999999999999545" height="759" fill="url(#rod)"/>
<rect x="1009.4" y="584" width="7.899999999999977" height="759" fill="url(#rod)"/>
<rect x="962.3" y="565.3" width="40.30000000000007" height="18.700000000000045" fill="#f4f4f4" stroke="#d6d6d6" stroke-width="0.9"/>
<rect x="1002.6" y="567" width="20.899999999999977" height="17" fill="#f3f3f3" stroke="#d6d6d6" stroke-width="0.9"/>
<rect x="962" y="1343.3" width="40.5" height="17.40000000000009" fill="#f4f4f4" stroke="#d6d6d6" stroke-width="0.9"/>
<rect x="1002.5" y="1343.3" width="20.200000000000045" height="17.40000000000009" fill="#f3f3f3" stroke="#d6d6d6" stroke-width="0.9"/>
<rect x="531" y="567" width="29" height="793" fill="url(#post)" stroke="#e2e2e2" stroke-width="0.8"/>
<line x1="531.3" y1="567" x2="531.3" y2="1360" stroke="#cdcdcd" stroke-width="1"/>
<line x1="529" y1="567" x2="529" y2="584" stroke="#cfcfcf" stroke-width="0.8"/>
<rect x="531" y="567" width="46.5" height="16.8" fill="#f4f4f4" stroke="#dcdcdc" stroke-width="0.8"/>
<rect x="905" y="567" width="30.5" height="793" fill="url(#post)" stroke="#e0e0e0" stroke-width="0.8"/>
<line x1="905.3" y1="567" x2="905.3" y2="1342" stroke="#d2d2d2" stroke-width="1"/>
<rect x="531" y="1342" width="404.5" height="18" fill="#ebebeb" stroke="#d9d9d9" stroke-width="1"/>
<rect x="562.5" y="556.3" width="323" height="9.8" fill="#f8f8f8" stroke="#e2e2e2" stroke-width="0.9"/>
<rect x="583.0" y="566" width="7.6" height="755" fill="url(#bar)"/>
<rect x="609.4000000000001" y="566" width="7.6" height="755" fill="url(#bar)"/>
<rect x="636.0" y="566" width="7.6" height="755" fill="url(#bar)"/>
<rect x="662.4000000000001" y="566" width="7.6" height="755" fill="url(#bar)"/>
<rect x="688.2" y="566" width="7.6" height="755" fill="url(#bar)"/>
<rect x="716.0" y="566" width="7.6" height="755" fill="url(#barL)"/>
<rect x="743.2" y="566" width="7.6" height="755" fill="url(#barL)"/>
<rect x="769.9000000000001" y="566" width="7.6" height="755" fill="url(#barL)"/>
<rect x="796.6" y="566" width="7.6" height="755" fill="url(#barL)"/>
<rect x="822.4000000000001" y="566" width="7.6" height="755" fill="url(#barL)"/>
<rect x="849.3000000000001" y="566" width="7.6" height="755" fill="url(#barL)"/>
<rect x="876" y="566" width="9" height="755" fill="url(#barL)"/>
<rect x="563.6" y="1321" width="322" height="9" fill="#f3f3f3" stroke="#d6d6d6" stroke-width="0.9"/>
<rect x="569" y="1316" width="3.5" height="26" fill="#ececec" stroke="#cfcfcf" stroke-width="0.7"/>
<path d="M706.5 1113 L893.5 1113 L893.5 1128 L860 1128 Q852 1132 845 1132 L745 1132 Q738 1132 730 1128 L706.5 1128 Z" fill="#f0f0f0" stroke="#c9c9c9" stroke-width="1"/>
<circle cx="711.5" cy="1119.6" r="2.2" fill="#5a5a5a"/>
<circle cx="760.2" cy="1119.6" r="2.2" fill="#5a5a5a"/>
<circle cx="839.4" cy="1119.6" r="2.2" fill="#5a5a5a"/>
<circle cx="888.4" cy="1119.6" r="2.2" fill="#5a5a5a"/>
<path d="M706.5 1304 L730 1304 Q738 1300 745 1300 L845 1300 Q852 1300 860 1304 L893.5 1304 L893.5 1315.5 L860 1315.5 Q852 1319 845 1319 L745 1319 Q738 1319 730 1315.5 L706.5 1315.5 Z" fill="#f0f0f0" stroke="#c9c9c9" stroke-width="1"/>
<circle cx="730.2" cy="1309.8" r="2.2" fill="#5a5a5a"/>
<rect x="725.2" y="1303" width="10" height="13" fill="none" stroke="#bdbdbd" stroke-width="0.8"/>
<circle cx="869.4" cy="1309.8" r="2.2" fill="#5a5a5a"/>
<rect x="864.4" y="1303" width="10" height="13" fill="none" stroke="#bdbdbd" stroke-width="0.8"/>
<path d="M904 792.4 L923 792.4 Q928.5 792.4 928.5 798 L928.5 816 Q928.5 821.6 923 821.6 L904 821.6 Z" fill="#f4f4f4" stroke="#c6c6c6" stroke-width="0.9"/>
<circle cx="918.8" cy="806.4" r="2.4" fill="#555"/>
<path d="M902 812 L902 810 M902 812 Q896 812 893 815 Q891 818 891 822 L891 832" fill="none" stroke="#c8c8c8" stroke-width="5"/>
<path d="M902 812 Q896 812 893 815 Q891 818 891 822 L891 832" fill="none" stroke="#f6f6f6" stroke-width="3"/>
<rect x="885" y="829" width="8" height="6" fill="#ededed" stroke="#aaa" stroke-width="0.7"/>
<rect x="899" y="782" width="5" height="10" fill="#f4f4f4" stroke="#c8c8c8" stroke-width="0.7"/>
<rect x="892" y="792" width="12" height="4" fill="#f0f0f0" stroke="#c8c8c8" stroke-width="0.7"/>
<line x1="1166.4" y1="254.5" x2="1166.4" y2="520" stroke="url(#arrV1)" stroke-width="8.5"/>
<polyline points="1145.4,273.5 1166.4,252.5 1187.4,273.5" fill="none" stroke="url(#arrV1)" stroke-width="8" stroke-linecap="round" stroke-linejoin="round"/>
<polyline points="1145.4,501 1166.4,522 1187.4,501" fill="none" stroke="url(#arrV1)" stroke-width="8" stroke-linecap="round" stroke-linejoin="round"/>
<line x1="1166.1" y1="553.5" x2="1166.1" y2="1355.5" stroke="url(#arrV2)" stroke-width="8.5"/>
<polyline points="1145.1,572.5 1166.1,551.5 1187.1,572.5" fill="none" stroke="url(#arrV2)" stroke-width="8" stroke-linecap="round" stroke-linejoin="round"/>
<polyline points="1145.1,1336.5 1166.1,1357.5 1187.1,1336.5" fill="none" stroke="url(#arrV2)" stroke-width="8" stroke-linecap="round" stroke-linejoin="round"/>
<line x1="408" y1="1462" x2="472" y2="1462" stroke="#f09e31" stroke-width="7"/>
<polyline points="427,1441.5 406.5,1462 427,1482.5" fill="none" stroke="#f09e31" stroke-width="7.5" stroke-linecap="round" stroke-linejoin="round"/>
<line x1="1012" y1="1462" x2="1068" y2="1462" stroke="#ee8a2a" stroke-width="7"/>
<polyline points="1050,1441.5 1070,1462 1050,1482.5" fill="none" stroke="#ee8a2a" stroke-width="7.5" stroke-linecap="round" stroke-linejoin="round"/>
<path d="M512 1398 C525 1394 535 1388 545 1391 C556 1394 560 1410 572 1409 C584 1408 590 1402 597.5 1400" fill="none" stroke="#b48d5c" stroke-width="1.6"/>
<path d="M593.3 1401.5 L593.3 1392 Q593.3 1384 601 1384 L872 1384 Q880 1384 880 1392 L880 1401.5 Z" fill="url(#pedal)" stroke="#c4c4c4" stroke-width="0.8"/>
<rect x="598" y="307" width="214" height="112.19999999999999" rx="12" fill="#fff5e2" opacity="0.8"/>
<rect x="601" y="310" width="208" height="106.19999999999999" rx="9" fill="url(#lblV)" stroke="#d5833a" stroke-width="1.1"/>
<text x="609.30" y="354" font-size="50" fill="#fffbe6" stroke="#fffbe6" stroke-width="1.8" stroke-linejoin="round" textLength="190.00" lengthAdjust="spacingAndGlyphs" >heighten</text>
<text x="609.60" y="400.5" font-size="50" fill="#fffbe6" stroke="#fffbe6" stroke-width="1.8" stroke-linejoin="round" textLength="68.00" lengthAdjust="spacingAndGlyphs" >net</text>
<rect x="629" y="784" width="133.5" height="113" rx="10" fill="#fff5e2" opacity="0.8"/>
<rect x="632" y="787" width="127.5" height="107" rx="7" fill="url(#lblH)" stroke="#d5833a" stroke-width="1.1"/>
<text x="640.15" y="830.5" font-size="50.3" fill="#fffbe6" stroke="#fffbe6" stroke-width="1.3" stroke-linejoin="round" textLength="106.70" lengthAdjust="spacingAndGlyphs" >main</text>
<text x="642.15" y="877" font-size="50.3" fill="#fffbe6" stroke="#fffbe6" stroke-width="1.3" stroke-linejoin="round" textLength="92.20" lengthAdjust="spacingAndGlyphs" >gate</text>
<rect x="687" y="1152" width="134.39999999999998" height="113.20000000000005" rx="10" fill="#fff5e2" opacity="0.8"/>
<rect x="690" y="1155" width="128.39999999999998" height="107.20000000000005" rx="7" fill="url(#lblH)" stroke="#d5833a" stroke-width="1.1"/>
<text x="699.25" y="1198.7" font-size="51.5" fill="#fffbe6" stroke="#fffbe6" stroke-width="1.3" stroke-linejoin="round" textLength="62.90" lengthAdjust="spacingAndGlyphs" >cat</text>
<text x="699.25" y="1245" font-size="51.5" fill="#fffbe6" stroke="#fffbe6" stroke-width="1.3" stroke-linejoin="round" textLength="101.50" lengthAdjust="spacingAndGlyphs" >door</text>
<rect x="389" y="1218" width="128.39999999999998" height="90" rx="10.5" fill="#fff5e2" opacity="0.8"/>
<rect x="392" y="1221" width="122.39999999999998" height="84" rx="7.5" fill="url(#lblD)" stroke="#d5833a" stroke-width="1.1"/>
<text x="397.45" y="1264.6" font-size="51" fill="#fffbe6" stroke="#fffbe6" stroke-width="1.3" stroke-linejoin="round" textLength="108.10" lengthAdjust="spacingAndGlyphs" >5.6IN</text>
<text x="395.50" y="1294.4" font-size="29.8" fill="#fcd7a2" stroke="#fcd7a2" stroke-width="1.0" stroke-linejoin="round" textLength="112.20" lengthAdjust="spacingAndGlyphs" >extender</text>
<rect x="930.3" y="1217.7" width="129.4000000000001" height="90.0" rx="10.5" fill="#fff5e2" opacity="0.8"/>
<rect x="933.3" y="1220.7" width="123.40000000000009" height="84.0" rx="7.5" fill="url(#lblD)" stroke="#d5833a" stroke-width="1.1"/>
<text x="937.75" y="1264.6" font-size="51" fill="#fffbe6" stroke="#fffbe6" stroke-width="1.3" stroke-linejoin="round" textLength="108.70" lengthAdjust="spacingAndGlyphs" >2.8IN</text>
<text x="937.50" y="1293.3" font-size="29.8" fill="#fcd7a2" stroke="#fcd7a2" stroke-width="1.0" stroke-linejoin="round" textLength="111.90" lengthAdjust="spacingAndGlyphs" >extender</text>
<rect x="1096.8" y="386.3" width="128.20000000000005" height="57.19999999999999" rx="10" fill="#fff5e2" opacity="0.8"/>
<rect x="1099.8" y="389.3" width="122.20000000000005" height="51.19999999999999" rx="7" fill="url(#lblH)" stroke="#d5833a" stroke-width="1.1"/>
<text x="1112.75" y="433" font-size="50.4" fill="#fffbe6" stroke="#fffbe6" stroke-width="1.3" stroke-linejoin="round" textLength="95.20" lengthAdjust="spacingAndGlyphs" >16IN</text>
<rect x="1096.7" y="1235.1" width="128.70000000000005" height="56.200000000000045" rx="10" fill="#fff5e2" opacity="0.8"/>
<rect x="1099.7" y="1238.1" width="122.70000000000005" height="50.200000000000045" rx="7" fill="url(#lblH)" stroke="#d5833a" stroke-width="1.1"/>
<text x="1111.65" y="1281.9" font-size="52.8" fill="#fffbe6" stroke="#fffbe6" stroke-width="1.3" stroke-linejoin="round" textLength="96.80" lengthAdjust="spacingAndGlyphs" >55IN</text>
<rect x="100.4" y="1372.1" width="414.29999999999995" height="56.200000000000045" rx="10" fill="#fff5e2" opacity="0.8"/>
<rect x="103.4" y="1375.1" width="408.29999999999995" height="50.200000000000045" rx="7" fill="url(#lblV)" stroke="#d5833a" stroke-width="1.1"/>
<text x="106.15" y="1418.6" font-size="51" fill="#fffbe6" stroke="#fffbe6" stroke-width="1.3" stroke-linejoin="round" textLength="275.70" lengthAdjust="spacingAndGlyphs" >Anti-Stumble</text>
<text x="392.65" y="1418.6" font-size="51" fill="#fffbe6" stroke="#fffbe6" stroke-width="1.3" stroke-linejoin="round" textLength="116.30" lengthAdjust="spacingAndGlyphs" >Pedal</text>
<rect x="466.3" y="1428.2" width="552.0" height="64.79999999999995" rx="10" fill="#fff5e2" opacity="0.8"/>
<rect x="469.3" y="1431.2" width="546.0" height="58.799999999999955" rx="7" fill="url(#lblH)" stroke="#d5833a" stroke-width="1.1"/>
<text x="476.65" y="1474.8" font-size="50.8" fill="#fffbe6" stroke="#fffbe6" stroke-width="1.3" stroke-linejoin="round" textLength="119.20" lengthAdjust="spacingAndGlyphs" >width</text>
<text x="606.75" y="1474.8" font-size="50.8" fill="#fffbe6" stroke="#fffbe6" stroke-width="1.3" stroke-linejoin="round" textLength="120.60" lengthAdjust="spacingAndGlyphs" >range</text>
<rect x="735.2" y="1445.2" width="6.6" height="6.6" rx="2" fill="#fffbe6"/>
<rect x="735.2" y="1467.6" width="6.6" height="6.6" rx="2" fill="#fffbe6"/>
<text x="773.25" y="1474.8" font-size="48.5" fill="#fffbe6" stroke="#fffbe6" stroke-width="0.5" stroke-linejoin="round" textLength="245.10" lengthAdjust="spacingAndGlyphs" >29.5-40.6IN</text>
</svg>
</body></html>
